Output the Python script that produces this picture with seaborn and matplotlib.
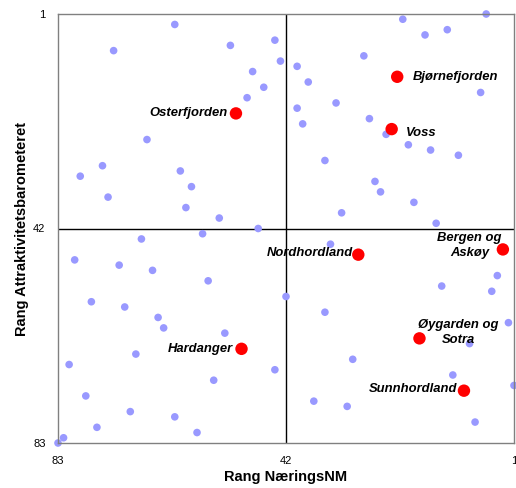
import matplotlib
matplotlib.use("Agg")
import matplotlib.pyplot as plt
import seaborn as sns
import pandas as pd

# rank on NæringsNM (x) and Attraktivitetsbarometeret (y) for all municipalities
rang_naering = [62, 73, 52, 44, 43, 48, 46, 49, 67, 75, 79, 61, 59, 74, 60, 54, 47,
                21, 6, 13, 17, 28, 40, 38, 7, 40, 33, 39, 27, 24, 20, 16, 11, 35, 26,
                25, 19, 32, 15,
                57, 68, 80, 72, 66, 56, 77, 71, 42, 65, 64, 53, 69, 81, 44, 55, 78, 70,
                62, 76, 58, 82, 83,
                34, 4, 14, 5, 35, 2, 9, 30, 12, 1, 37, 31, 8]
rang_attrakt = [3, 8, 7, 6, 10, 12, 15, 17, 25, 30, 32, 31, 34, 36, 38, 40, 42,
                2, 1, 4, 5, 9, 11, 14, 16, 19, 18, 22, 21, 24, 26, 27, 28, 29, 33,
                35, 37, 39, 41,
                43, 44, 48, 49, 50, 52, 56, 57, 55, 59, 61, 62, 66, 68, 69, 71, 74, 77,
                78, 80, 81, 82, 83,
                45, 51, 53, 54, 58, 60, 64, 67, 70, 72, 75, 76, 79]

# highlighted regions
regioner = ["Osterfjorden", "Bjørnefjorden", "Voss", "Nordhordland",
            "Bergen og\nAskøy", "Hardanger", "Øygarden og\nSotra", "Sunnhordland"]
region_naering = [51, 22, 23, 29, 3, 50, 18, 10]
region_attrakt = [20, 13, 23, 47, 46, 65, 63, 73]

df = pd.DataFrame({"NæringsNM": rang_naering, "Attraktivitet": rang_attrakt})
df_reg = pd.DataFrame({"Region": regioner, "NæringsNM": region_naering,
                       "Attraktivitet": region_attrakt})

sns.set_style("white", {"text.color": "black", "axes.labelcolor": "black",
                        "xtick.color": "black", "ytick.color": "black"})
plt.rcParams["font.family"] = ["Liberation Sans", "DejaVu Sans"]

fig = plt.figure(figsize=(5.16, 4.88), dpi=100)
ax = fig.add_axes([58 / 516, 45 / 488, 456 / 516, 429 / 488])

# quadrant lines
ax.axvline(42, color="black", lw=1, zorder=1)
ax.axhline(42, color="black", lw=1, zorder=1)

sns.scatterplot(data=df, x="NæringsNM", y="Attraktivitet", color="#9999ff",
                s=30, edgecolor="none", ax=ax, zorder=2, clip_on=False)
sns.scatterplot(data=df_reg, x="NæringsNM", y="Attraktivitet", color="#ff0000",
                s=80, edgecolor="none", ax=ax, zorder=3, clip_on=False)

# label placement (offset in points, alignment)
label_pos = {
    "Osterfjorden": ((-6, 0), "right"),
    "Bjørnefjorden": ((11, 0), "left"),
    "Voss": ((10, -3), "left"),
    "Nordhordland": ((-4, 1.5), "right"),
    "Bergen og\nAskøy": ((-24, 3), "center"),
    "Hardanger": ((-6.5, 0), "right"),
    "Øygarden og\nSotra": ((28, 4.3), "center"),
    "Sunnhordland": ((-4.5, 1.5), "right"),
}
for name, xv, yv in zip(regioner, region_naering, region_attrakt):
    off, ha = label_pos[name]
    ax.annotate(name, (xv, yv), xytext=off, textcoords="offset points",
                ha=ha, va="center", fontsize=9.4, fontweight="bold",
                fontstyle="italic", linespacing=1.3, zorder=4, color="black")

ax.set_xlim(83, 1)
ax.set_ylim(83, 1)
ax.set_xticks([83, 42, 1])
ax.set_yticks([1, 42, 83])
ax.tick_params(axis="both", labelsize=8, length=3, color="#808080",
               labelcolor="black", direction="out", pad=6)
for sp in ax.spines.values():
    sp.set_color("#808080")
    sp.set_linewidth(1)

ax.set_xlabel("Rang NæringsNM", fontsize=10.5, fontweight="bold", labelpad=3,
              color="black")
ax.set_ylabel("Rang Attraktivitetsbarometeret", fontsize=10.5, fontweight="bold",
              labelpad=3, color="black")

fig.savefig("out.png", dpi=100)
